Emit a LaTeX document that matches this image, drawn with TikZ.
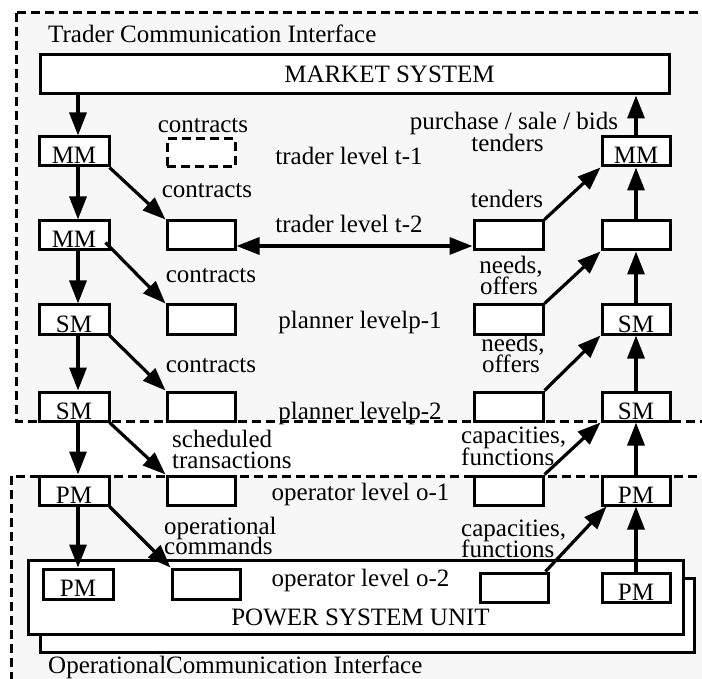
\documentclass[tikz,border=0pt]{standalone}
\usepackage{fontspec}
\setmainfont{Liberation Serif}
\usetikzlibrary{arrows.meta}
\definecolor{bgg}{RGB}{247,247,247}
\begin{document}
\begin{tikzpicture}[x=1pt,y=-1pt,
  txt/.style={font=\fontsize{25}{20}\selectfont, inner sep=0pt},
  box/.style={draw, line width=3pt, fill=white, minimum width=68pt, minimum height=29pt, inner sep=0pt,
              text height=25pt, text depth=0pt, font=\fontsize{25}{20}\selectfont},
  dbox/.style={box, dash pattern=on 9pt off 5pt},
  arr/.style={line width=3.2pt, -{Triangle[length=23pt,width=17pt]}},
  darr/.style={line width=3.2pt, {Triangle[length=23pt,width=17pt]}-{Triangle[length=23pt,width=17pt]}},
  region/.style={fill=bgg, draw, line width=3pt, dash pattern=on 9pt off 5pt},
  plain/.style={draw, line width=3pt, fill=white, inner sep=0pt}]
\useasboundingbox (0,0) rectangle (702,679);
\fill[white] (0,0) rectangle (702,679);
% regions
\draw[region] (16,13) rectangle (712,421);
\draw[region] (11,476) rectangle (712,692);
% power system unit
\node[plain, minimum width=654pt, minimum height=74pt] (psushadow) at (367,615) {};
\node[plain, minimum width=655pt, minimum height=74pt] (psu) at (355.5,597) {};
% market system
\node[box, minimum width=629pt, minimum height=39pt, text height=16pt] (ms) at (354.5,74.5) {\hspace*{70pt}MARKET SYSTEM};
% left column
\node[box, minimum width=70pt] (L1) at (74,151.5) {MM};
\node[box, minimum width=70pt] (L2) at (74,235.5) {MM};
\node[box, minimum width=70pt] (L3) at (74,319.5) {SM};
\node[box, minimum width=70pt] (L4) at (74,406.5) {SM};
\node[box, minimum width=70pt] (L5) at (74,490.5) {PM};
\node[box, minimum width=70pt, minimum height=30pt] (L6) at (78,584) {PM};
% middle-left column
\node[dbox, minimum height=28pt] (C1) at (201,153) {};
\node[box] (C2) at (201,235.5) {};
\node[box] (C3) at (201,319.5) {};
\node[box] (C4) at (201,406.5) {};
\node[box] (C5) at (201,490.5) {};
\node[box, minimum height=30pt] (C6) at (206,584) {};
% middle-right column
\node[box, minimum width=69pt] (D2) at (508.5,235.5) {};
\node[box, minimum width=69pt] (D3) at (508.5,319.5) {};
\node[box, minimum width=69pt] (D4) at (508.5,406.5) {};
\node[box, minimum width=69pt] (D5) at (508.5,490.5) {};
\node[box] (D6) at (514,587.5) {};
% right column
\node[box] (R1) at (636,151.5) {MM};
\node[box] (R2) at (636,235.5) {};
\node[box] (R3) at (636,319.5) {SM};
\node[box] (R4) at (636,406.5) {SM};
\node[box] (R5) at (636,490.5) {PM};
\node[box] (R6) at (636,587.5) {PM};
% left arrows
\draw[arr] ([xshift=4pt]ms.south -| L1) -- ([xshift=4pt]L1.north);
\draw[arr] ([xshift=4pt]L1.south) -- ([xshift=4pt]L2.north);
\draw[arr] ([xshift=4pt]L2.south) -- ([xshift=4pt]L3.north);
\draw[arr] ([xshift=4pt]L3.south) -- ([xshift=4pt]L4.north);
\draw[arr] ([xshift=4pt]L4.south) -- ([xshift=4pt]L5.north);
\draw[arr] ([xshift=4pt]L5.south) -- (L6.north);
\draw[arr] ([xshift=-1pt]L1.south east) -- (C2.north west);
\draw[arr] ([shift={(-5,7)}]L2.east) -- (C3.north west);
\draw[arr] ([xshift=-1pt]L3.south east) -- (C4.north west);
\draw[arr] ([xshift=-1pt]L4.south east) -- (C5.north west);
\draw[arr] ([xshift=-1pt]L5.south east) -- (C6.north west);
% double arrow
\draw[darr] ([shift={(0,10.5)}]C2.east) -- ([shift={(0,10.5)}]D2.west);
% right arrows
\draw[arr] (R6.north) -- (R5.south);
\draw[arr] (R5.north) -- (R4.south);
\draw[arr] (R4.north) -- (R3.south);
\draw[arr] (R3.north) -- (R2.south);
\draw[arr] (R2.north) -- (R1.south);
\draw[arr] (R1.north) -- (R1.north |- ms.south);
\draw[arr] ([shift={(-4,0)}]D6.north east) -- ([shift={(6,0)}]R5.south west);
\draw[arr] (D5.north east) -- (R4.south west);
\draw[arr] (D4.north east) -- (R3.south west);
\draw[arr] (D3.north east) -- (R2.south west);
\draw[arr] (D2.north east) -- (R1.south west);
% texts
\node[txt, anchor=base west] (tci) at (48,43) {Trader Communication Interface};
\node[txt, anchor=base west] (oci) at (48,673) {OperationalCommunication Interface};
\node[txt, anchor=base] (psutext) at (360.5,625) {POWER SYSTEM UNIT};
\node[txt, anchor=base] (lc1) at (203,133) {contracts};
\node[txt, anchor=base] (lc2) at (207,198) {contracts};
\node[txt, anchor=base] (lc3) at (211,283) {contracts};
\node[txt, anchor=base] (lc4) at (211,372) {contracts};
\node[txt, anchor=base west] (ls1) at (172,447) {scheduled};
\node[txt, anchor=base west] (ls2) at (172,468) {transactions};
\node[txt, anchor=base west] (lo1) at (164,534) {operational};
\node[txt, anchor=base west] (lo2) at (164,554) {commands};
\node[txt, anchor=base] (v1) at (349,165) {trader level t-1};
\node[txt, anchor=base] (v2) at (349,233) {trader level t-2};
\node[txt, anchor=base] (v3) at (360,328) {planner levelp-1};
\node[txt, anchor=base] (v4) at (360,419) {planner levelp-2};
\node[txt, anchor=base] (v5) at (360.5,500) {operator level o-1};
\node[txt, anchor=base] (v6) at (360.5,586) {operator level o-2};
\node[txt, anchor=base] (rp) at (514,130) {purchase / sale / bids};
\node[txt, anchor=base] (rt1) at (507.5,152) {tenders};
\node[txt, anchor=base] (rt2) at (507,208) {tenders};
\node[txt, anchor=base] (rn1) at (511,274) {needs,};
\node[txt, anchor=base] (rn1b) at (509,295) {offers};
\node[txt, anchor=base] (rn2) at (513,351) {needs,};
\node[txt, anchor=base] (rn2b) at (511,372) {offers};
\node[txt, anchor=base west] (rc1) at (461,443) {capacities,};
\node[txt, anchor=base west] (rc1b) at (461,465) {functions};
\node[txt, anchor=base west] (rc2) at (461,536) {capacities,};
\node[txt, anchor=base west] (rc2b) at (461,557) {functions};
\end{tikzpicture}
\end{document}
